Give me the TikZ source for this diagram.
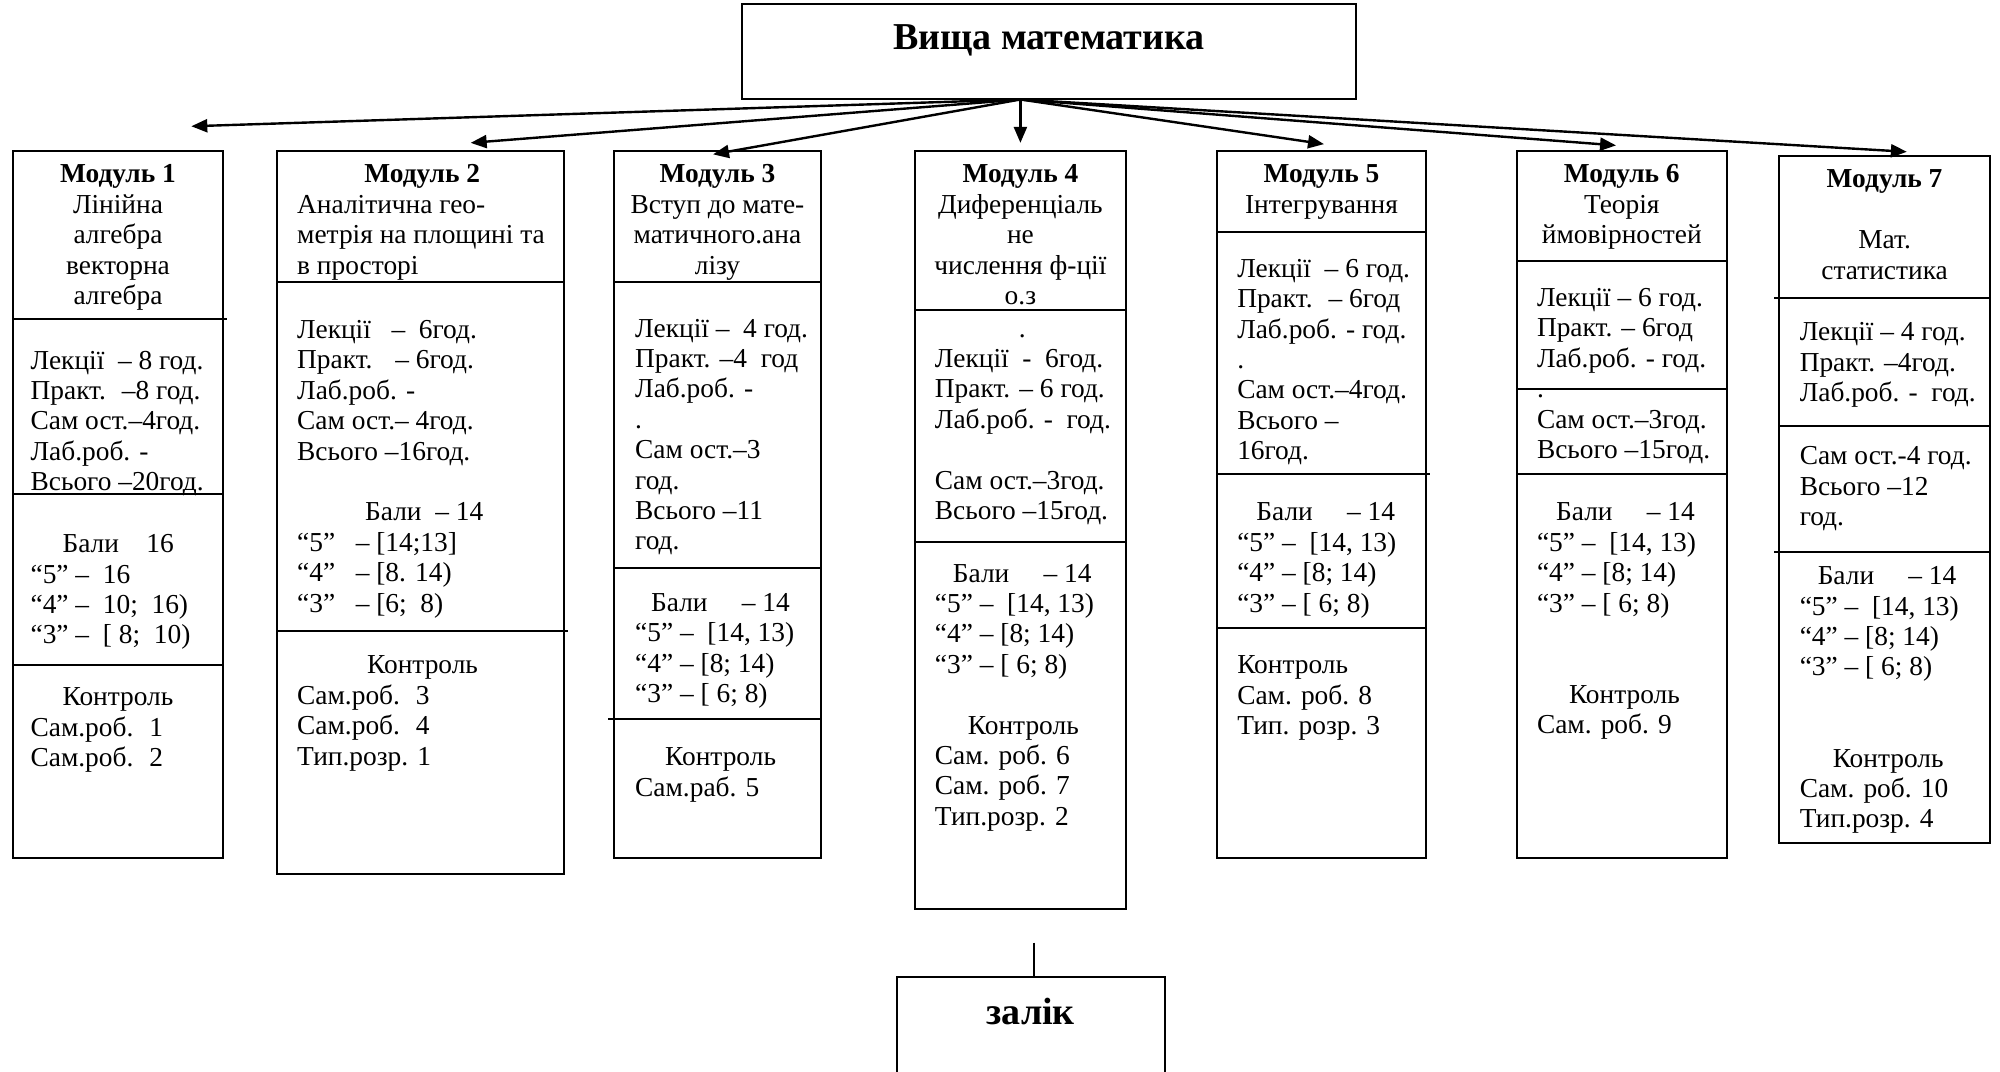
\documentclass[tikz,border=0pt]{standalone}
\usepackage{fontspec}
\setmainfont{Liberation Serif}
\usetikzlibrary{arrows.meta,fit}
\newcommand\bodyfs{\fontsize{13.7pt}{15.2pt}\selectfont}
\newcommand\titlefs{\fontsize{19pt}{22pt}\selectfont\bfseries}
\begin{document}
\begin{tikzpicture}[x=0.6378pt, y=-0.6378pt,
 box/.style={draw, line width=1pt, inner sep=0pt, outer sep=0pt},
 sep/.style={line width=1pt},
 arr/.style={line width=1.2pt, -{Triangle[length=8pt, width=6.5pt]}},
 txt/.style={inner sep=0pt, outer sep=0pt, anchor=north west, align=left, font=\bodyfs, yshift=6.6pt},
 ctxt/.style={txt, anchor=north, align=center},
 ttl/.style={inner sep=0pt, anchor=base, font=\titlefs},
]
\clip (0,0) rectangle (1568,840);

% main box
\node[box, fit={(582,3) (1063,78)}] (main) {};
\node[ttl] (maintitle) at (822.5,39) {Вища математика};

% module boxes
\node[box, fit={(10,118) (175,673)}] (m1) {};
\node[box, fit={(217,118) (442,685)}] (m2) {};
\node[box, fit={(481,118) (644,673)}] (m3) {};
\node[box, fit={(717,118) (883,713)}] (m4) {};
\node[box, fit={(954,118) (1118,673)}] (m5) {};
\node[box, fit={(1189,118) (1354,673)}] (m6) {};
\node[box, fit={(1395,122) (1560,661)}] (m7) {};
\node[box, fit={(703,766) (913,870)}] (zalik) {};
\node[ttl] (zaliktitle) at (808,803) {залік};

% dividers
\draw[sep] (m1.west |- 0,250) -- (178,250);
\draw[sep] (m1.west |- 0,387) -- (m1.east |- 0,387);
\draw[sep] (m1.west |- 0,521) -- (m1.east |- 0,521);
\draw[sep] (m2.west |- 0,221) -- (m2.east |- 0,221);
\draw[sep] (m2.west |- 0,495) -- (445,495);
\draw[sep] (m3.west |- 0,221) -- (m3.east |- 0,221);
\draw[sep] (m3.west |- 0,445) -- (m3.east |- 0,445);
\draw[sep] (477,564) -- (m3.east |- 0,564);
\draw[sep] (m4.west |- 0,243) -- (m4.east |- 0,243);
\draw[sep] (m4.west |- 0,425) -- (m4.east |- 0,425);
\draw[sep] (m5.west |- 0,182) -- (m5.east |- 0,182);
\draw[sep] (m5.west |- 0,372) -- (1121,372);
\draw[sep] (m5.west |- 0,492) -- (m5.east |- 0,492);
\draw[sep] (m6.west |- 0,205) -- (m6.east |- 0,205);
\draw[sep] (m6.west |- 0,305) -- (m6.east |- 0,305);
\draw[sep] (m6.west |- 0,372) -- (m6.east |- 0,372);
\draw[sep] (1391,234) -- (m7.east |- 0,234);
\draw[sep] (m7.west |- 0,334) -- (m7.east |- 0,334);
\draw[sep] (1391,433) -- (m7.east |- 0,433);

% arrows
\coordinate (src) at (main.south -| 800,0);
\coordinate (t1) at (150,99);
\coordinate (t2) at (369,112);
\coordinate (t3) at (559,121);
\coordinate (t4) at (800,112);
\coordinate (t5) at (1038,113);
\coordinate (t6) at (1267,114);
\coordinate (t7) at (1495,119);
\foreach \t in {t1,t2,t3,t4,t5,t6,t7} \draw[arr] (src) -- (\t);
\coordinate (zt) at (811,739);
\draw[sep] (zt) -- (zt |- zalik.north);

% Module 1
\node[ctxt] (m1h) at (92.5,137) {\strut\textbf{Модуль 1}\\Лінійна\\алгебра\\векторна\\алгебра};
\node[txt] (m1a) at (24,283) {\strut Лекції~ – 8 год.\\Практ.~ –8 год.\\Сам ост.–4год.\\Лаб.роб. -\\Всього –20год.};
\node[txt] (m1b) at (24,427) {\strut\hspace*{16pt}Бали~~~ 16\\“5” –~ 16\\“4” –~ 10;~ 16)\\“3” –~ [ 8;~ 10)};
\node[txt] (m1c) at (24,547) {\strut\hspace*{16pt}Контроль\\Сам.роб.~ 1\\Сам.роб.~ 2};

% Module 2
\node[ctxt] (m2h) at (331,137) {\strut\textbf{Модуль 2}};
\node[txt] (m2t) at (233,161) {\strut Аналітична гео-\\метрія на площині та\\в просторі};
\node[txt] (m2a) at (233,259) {\strut Лекції~~ –~ 6год.\\Практ.~~ – 6год.\\Лаб.роб. -\\Сам ост.– 4год.\\Всього –16год.\\\mbox{}\\\hspace*{34pt}Бали~ – 14\\“5”~~ – [14;13]\\“4”~~ – [8. 14)\\“3”~~ – [6;~ 8)};
\node[txt] (m2c) at (233,522) {\strut\hspace*{35pt}Контроль\\Сам.роб.~ 3\\Сам.роб.~ 4\\Тип.розр. 1};

% Module 3
\node[ctxt] (m3h) at (562.5,137) {\strut\textbf{Модуль 3}\\Вступ до мате-\\матичного.ана\\лізу};
\node[txt] (m3a) at (498,258) {\strut Лекції –~ 4 год.\\Практ. –4~ год\\Лаб.роб. -\\.\\Сам ост.–3\\год.\\Всього –11\\год.};
\node[txt] (m3b) at (498,473) {\strut\hspace*{8pt}Бали~~~~ – 14\\“5” –~ [14, 13)\\“4” – [8; 14)\\“3” – [ 6; 8)};
\node[txt] (m3c) at (498,594) {\strut\hspace*{15pt}Контроль\\Сам.раб. 5};

% Module 4
\node[ctxt] (m4h) at (800,137) {\strut\textbf{Модуль 4}\\Диференціаль\\не\\числення ф-ції\\о.з};
\node[txt] (m4a) at (733,258) {\strut\hspace*{42pt}.\\Лекції~ -~ 6год.\\Практ. – 6 год.\\Лаб.роб. -~ год.\\\mbox{}\\Сам ост.–3год.\\Всього –15год.};
\node[txt] (m4b) at (733,450) {\strut\hspace*{9pt}Бали~~~~ – 14\\“5” –~ [14, 13)\\“4” – [8; 14)\\“3” – [ 6; 8)\\\mbox{}\\\hspace*{16.5pt}Контроль\\Сам. роб. 6\\Сам. роб. 7\\Тип.розр. 2};

% Module 5
\node[ctxt] (m5h) at (1036,137) {\strut\textbf{Модуль 5}\\Інтегрування};
\node[txt] (m5a) at (970,211) {\strut Лекції~ – 6 год.\\Практ.~ – 6год\\Лаб.роб. - год.\\.\\Сам ост.–4год.\\Всього –\\16год.};
\node[txt] (m5b) at (970,402) {\strut\hspace*{9.6pt}Бали~~~~ – 14\\“5” –~ [14, 13)\\“4” – [8; 14)\\“3” – [ 6; 8)};
\node[txt] (m5c) at (970,522) {\strut Контроль\\Сам. роб. 8\\Тип. розр. 3};

% Module 6
\node[ctxt] (m6h) at (1271.5,137) {\strut\textbf{Модуль 6}\\Теорія\\ймовірностей};
\node[txt] (m6a) at (1205,234) {\strut Лекції – 6 год.\\Практ. – 6год\\Лаб.роб. - год.\\.\\Сам ост.–3год.\\Всього –15год.};
\node[txt] (m6b) at (1205,402) {\strut\hspace*{9.6pt}Бали~~~~ – 14\\“5” –~ [14, 13)\\“4” – [8; 14)\\“3” – [ 6; 8)\\\mbox{}\\\mbox{}\\\hspace*{16pt}Контроль\\Сам. роб. 9};

% Module 7
\node[ctxt] (m7h) at (1477.5,141) {\strut\textbf{Модуль 7}\\\mbox{}\\Мат.\\статистика};
\node[txt] (m7a) at (1411,261) {\strut Лекції – 4 год.\\Практ. –4год.\\Лаб.роб. -~ год.};
\node[txt] (m7b) at (1411,358) {\strut Сам ост.-4 год.\\Всього –12\\год.};
\node[txt] (m7c) at (1411,452) {\strut\hspace*{9pt}Бали~~~~ – 14\\“5” –~ [14, 13)\\“4” – [8; 14)\\“3” – [ 6; 8)\\\mbox{}\\\mbox{}\\\hspace*{16.5pt}Контроль\\Сам. роб. 10\\Тип.розр. 4};
\end{tikzpicture}
\end{document}
